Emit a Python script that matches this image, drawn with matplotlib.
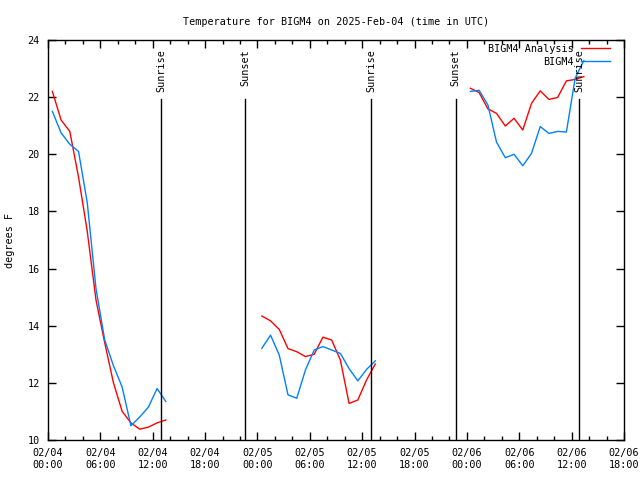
import matplotlib
matplotlib.use("Agg")
import matplotlib.pyplot as plt
from matplotlib.ticker import MultipleLocator

# hours since 02/04 00:00 UTC
hrs_1 = [0.5, 1.5, 2.5, 3.5, 4.5, 5.5, 6.5, 7.5, 8.5, 9.5, 10.5, 11.5, 12.5, 13.5]
ana_1 = [22.2, 21.2, 20.8, 19.2, 17.3, 14.9, 13.4, 12.0, 11.0, 10.6, 10.38, 10.45, 10.6, 10.7]
obs_1 = [21.5, 20.75, 20.35, 20.1, 18.3, 15.3, 13.5, 12.6, 11.85, 10.5, 10.8, 11.15, 11.8, 11.35]

hrs_2 = [24.5, 25.5, 26.5, 27.5, 28.5, 29.5, 30.5, 31.5, 32.5, 33.5, 34.5, 35.5, 36.5, 37.5]
ana_2 = [14.34, 14.17, 13.87, 13.2, 13.09, 12.92, 13.0, 13.6, 13.5, 12.8, 11.28, 11.4, 12.1, 12.66]
obs_2 = [13.21, 13.67, 12.97, 11.58, 11.46, 12.45, 13.15, 13.27, 13.15, 13.03, 12.5, 12.07, 12.47, 12.77]

hrs_3 = [48.4, 49.4, 50.4, 51.4, 52.4, 53.4, 54.4, 55.4, 56.4, 57.4, 58.4, 59.4, 60.4, 61.4]
ana_3 = [22.31, 22.16, 21.59, 21.43, 20.99, 21.26, 20.85, 21.78, 22.22, 21.92, 21.99, 22.57, 22.62, 22.72]
obs_3 = [22.2, 22.24, 21.73, 20.42, 19.88, 20.0, 19.6, 20.03, 20.97, 20.73, 20.8, 20.78, 22.66, 23.28]

sun_hrs = [12.95, 22.6, 37.0, 46.7, 60.9]
sun_names = ["Sunrise", "Sunset", "Sunrise", "Sunset", "Sunrise"]

xtick_hrs = list(range(0, 67, 6))
xtick_labels = ["02/04\n00:00", "02/04\n06:00", "02/04\n12:00", "02/04\n18:00",
                "02/05\n00:00", "02/05\n06:00", "02/05\n12:00", "02/05\n18:00",
                "02/06\n00:00", "02/06\n06:00", "02/06\n12:00", "02/06\n18:00"]

plt.rcParams["font.family"] = ["DejaVu Sans Mono"]
plt.rcParams["font.size"] = 7.3

fig = plt.figure(figsize=(6.4, 4.8), dpi=100)
ax = fig.add_axes([48 / 640, 40 / 480, 576 / 640, 400 / 480])

red = "#ff0000"
blue = "#0080ff"
for i, (h, a, o) in enumerate([(hrs_1, ana_1, obs_1), (hrs_2, ana_2, obs_2), (hrs_3, ana_3, obs_3)]):
    ax.plot(h, a, color=red, lw=1, label="BIGM4 Analysis" if i == 0 else None)
    ax.plot(h, o, color=blue, lw=1, label="BIGM4" if i == 0 else None)

for h, name in zip(sun_hrs, sun_names):
    ax.plot([h, h], [10, 21.95], color="black", lw=1)
    ax.text(h, 23.68, name, rotation=90, ha="center", va="top")

ax.set_xlim(0, 66)
ax.set_ylim(10, 24)
ax.set_xticks(xtick_hrs)
ax.set_xticklabels(xtick_labels, linespacing=1.25)
ax.xaxis.set_minor_locator(MultipleLocator(2))
ax.yaxis.set_major_locator(MultipleLocator(2))
ax.tick_params(which="both", direction="in", top=True, right=True, width=1)
ax.tick_params(which="major", length=6, pad=6)
ax.tick_params(which="minor", length=3)
for s in ax.spines.values():
    s.set_linewidth(1)

ax.set_title("Temperature for BIGM4 on 2025-Feb-04 (time in UTC)", fontsize=7.3, pad=11)
ax.set_ylabel("degrees F", labelpad=8.7)

leg = ax.legend(loc="upper right", bbox_to_anchor=(562 / 576, 0.99), frameon=False,
                markerfirst=False, handlelength=2.9, borderpad=0, borderaxespad=0,
                labelspacing=0.3, handletextpad=0.7)
for t in leg.get_texts():
    t.set_ha("right")

fig.savefig("out.png", dpi=100)
